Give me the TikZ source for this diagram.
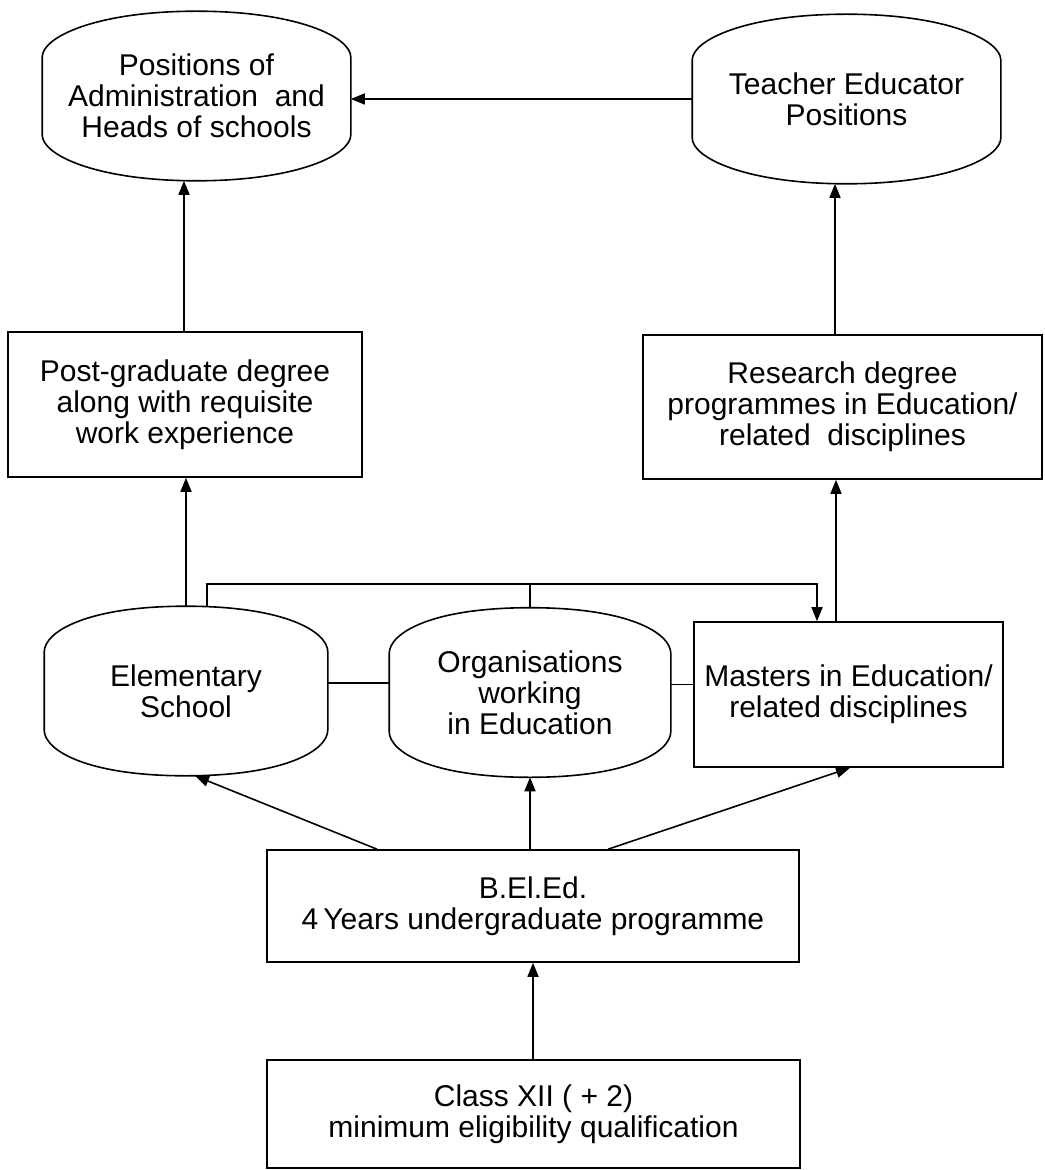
\documentclass[tikz,border=0pt]{standalone}
\usepackage{fontspec}
\setmainfont{Liberation Sans}
\usepackage{tikz}
\usetikzlibrary{positioning, shapes, arrows.meta, calc}

\begin{document}
\begin{tikzpicture}[x=0.5pt, y=0.5pt, thick, >={Triangle[length=7pt,width=5.5pt]},
  font=\fontsize{15}{15.5}\selectfont,
  rectbox/.style={draw, rectangle, align=center, inner sep=0pt},
  roundbox/.style={rectangle, align=center, inner sep=0pt, minimum height=84pt}]
  \useasboundingbox (0,0) rectangle (1044,-1170);

  \node[roundbox, minimum width=153.5pt] (admin) at (196.5,-96) {Positions of\\Administration\ \ and\\Heads of schools};
  \node[roundbox, minimum width=153.5pt] (teacher) at (846.5,-99) {Teacher Educator\\Positions};
  \node[rectbox, minimum width=177pt, minimum height=72.5pt] (postgrad) at (185,-404.5) {Post-graduate degree\\along with requisite\\work experience};
  \node[rectbox, minimum width=199.5pt, minimum height=72pt] (research) at (842.5,-407) {Research degree\\programmes in Education/\\related\ \ disciplines};
  \node[roundbox, minimum width=141pt] (elem) at (186,-691) {Elementary\\School};
  \node[roundbox, minimum width=140pt] (org) at (530,-692.5) {Organisations\\working\\in Education};
  \node[rectbox, minimum width=154.5pt, minimum height=72.5pt] (masters) at (848.5,-694.5) {Masters in Education/\\related disciplines};
  \node[rectbox, minimum width=266pt, minimum height=56pt] (beled) at (533,-906) {B.El.Ed.\\4\,Years undergraduate programme};
  \node[rectbox, minimum width=266.5pt, minimum height=54pt] (classxii) at (533.5,-1114) {Class XII ( + 2)\\minimum eligibility qualification};

  \foreach \n in {admin, teacher, elem, org}
    \draw ($(\n.north west)!0.27!(\n.south west)$)
      .. controls +(0,10pt) and +(-50pt,0) .. (\n.north)
      .. controls +(50pt,0) and +(0,10pt) .. ($(\n.north east)!0.27!(\n.south east)$)
      -- ($(\n.north east)!0.73!(\n.south east)$)
      .. controls +(0,-10pt) and +(50pt,0) .. (\n.south)
      .. controls +(-50pt,0) and +(0,-10pt) .. ($(\n.north west)!0.73!(\n.south west)$)
      -- cycle;

  \draw[->] (teacher.west) -- (teacher.west -| admin.east);
  \draw[->] ([xshift=-0.5pt]postgrad.north) -- ([xshift=-0.5pt]postgrad.north |- admin.south);
  \draw[->] ([xshift=-3.75pt]research.north) -- ([xshift=-3.75pt]research.north |- teacher.south);
  \draw[->] (elem.north) -- (elem.north |- postgrad.south);
  \draw[->] ([xshift=-6.25pt]masters.north) -- ([xshift=-6.25pt]masters.north |- research.south);
  \draw[->] ([xshift=10.5pt]elem.north) -- ++(0,11pt) coordinate (loop) -| ([xshift=-15.75pt]masters.north);
  \draw (org.north) -- (org.north |- loop);
  \draw ([yshift=4pt]elem.east) -- ([yshift=4pt]elem.east -| org.west);
  \draw ([yshift=4pt]org.east) -- ([yshift=4pt]org.east -| masters.west);
  \draw[->] ([xshift=-78pt]beled.north) -- ([xshift=4.5pt]elem.south);
  \draw[->] (beled.north -| org.south) -- (org.south);
  \draw[->] ([xshift=37.5pt]beled.north) -- ([xshift=0.75pt]masters.south);
  \draw[->] (classxii.north -| beled.north) -- (beled.south);
\end{tikzpicture}
\end{document}
